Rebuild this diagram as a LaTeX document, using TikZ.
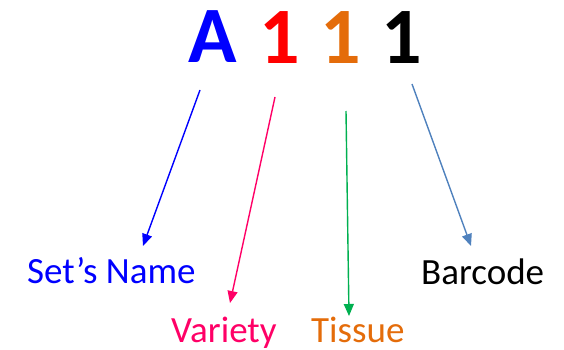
\documentclass[tikz,border=0pt]{standalone}
\usepackage{fontspec}
\setmainfont{Carlito}
\usetikzlibrary{arrows.meta}

\definecolor{setblue}{RGB}{0,0,255}
\definecolor{varpink}{RGB}{255,0,102}
\definecolor{tisorange}{RGB}{228,108,10}
\definecolor{arrgreen}{RGB}{0,176,80}
\definecolor{barsteel}{RGB}{79,129,189}

\begin{document}
\begin{tikzpicture}[x=1pt, y=-1pt, >={Triangle[length=12pt,width=10pt]},
  code/.style={anchor=base, inner sep=0pt, font=\fontsize{80}{80}\selectfont\bfseries},
  lbl/.style={anchor=base west, inner sep=0pt, font=\fontsize{37}{42}\selectfont},
  arr/.style={->, line width=1.4pt}]

\useasboundingbox (0,0) rectangle (564,350);

%--------------------
% Code letters
%--------------------
\node[code, text=setblue] (A) at (213,63) {A};
\node[code, text=red] (var) at (280,64) {1};
\node[code, text=tisorange] (tis) at (341,64) {1};
\node[code, text=black] (bar) at (402,64) {1};

%--------------------
% Labels
%--------------------
\node[lbl, text=setblue] (setName) at (27,283) {Set’s Name};
\node[lbl, text=varpink] (variety) at (171,342) {Variety};
\node[lbl, text=tisorange] (tissue) at (311,342) {Tissue};
\node[lbl, text=black] (barcode) at (421,284) {Barcode};

% Arrow ends
\coordinate (sA) at (200,90);   % below A
\coordinate (eA) at (143,246);  % above Set's Name
\coordinate (sV) at (275,97);
\coordinate (eV) at (230,303);
\coordinate (sT) at (346,111);
\coordinate (eT) at (349,316);
\coordinate (sB) at (412,84);
\coordinate (eB) at (471,246);

% Arrows
\draw[arr, setblue] (sA) -- (eA);
\draw[arr, varpink] (sV) -- (eV);
\draw[arr, arrgreen] (sT) -- (eT);
\draw[arr, barsteel] (sB) -- (eB);

\end{tikzpicture}
\end{document}
